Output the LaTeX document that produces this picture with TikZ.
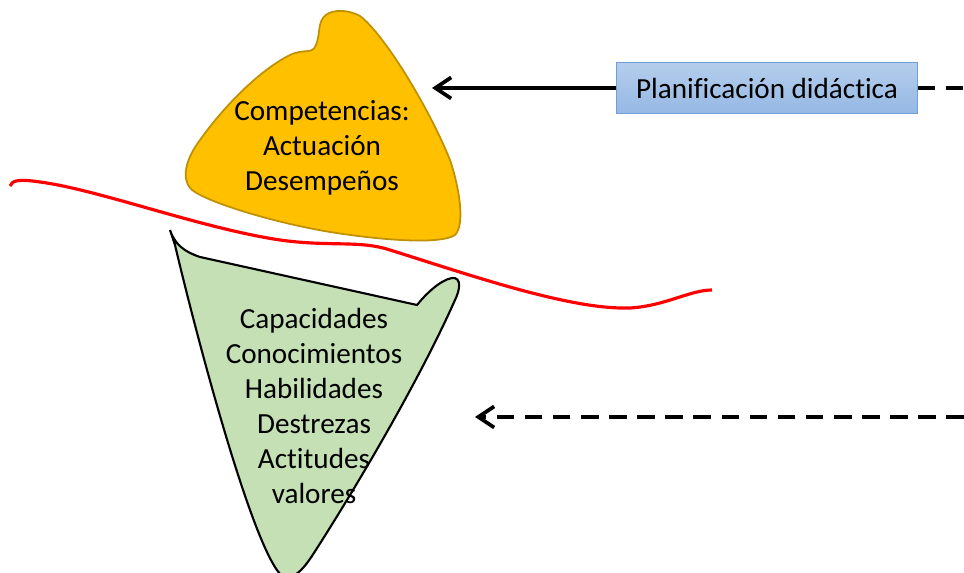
\documentclass[tikz,border=0pt]{standalone}
\usepackage{fontspec}
\setmainfont{Carlito}[Ligatures=NoCommon]
\usepackage{tikz}
\usetikzlibrary{arrows.meta}
\usetikzlibrary{positioning}
\definecolor{oro}{HTML}{FFC000}
\definecolor{orodark}{HTML}{BF9000}
\definecolor{verde}{HTML}{C5E0B4}
\definecolor{celeste}{HTML}{95B8E4}
\definecolor{celestedark}{HTML}{6F9FD8}
\tikzset{planbox/.style={rectangle,draw=celestedark,top color=celeste!70!white,bottom color=celeste,minimum width=171pt,minimum height=29pt,inner sep=0pt,font=\fontsize{16.6}{18}\selectfont}}
\tikzset{words/.style={align=center,inner sep=0pt,font=\fontsize{16.6}{20}\selectfont}}
\tikzset{flecha/.style={line width=2.1pt,-{Straight Barb[length=9pt,width=12pt,line width=2.1pt]}}}

\begin{document}
\begin{tikzpicture}[x=0.02cm,y=-0.02cm]
\useasboundingbox (0,0) rectangle (964,573);
\clip (0,0) rectangle (964,573);

% iceberg, upper part
\draw[fill=oro,draw=orodark,line width=1pt] (323,18) .. controls (328,10) and (345,8) .. (360,16)
  .. controls (385,35) and (430,110) .. (450,160)
  .. controls (460,190) and (465,225) .. (455,235)
  .. controls (440,245) and (380,240) .. (330,232)
  .. controls (270,222) and (200,200) .. (190,188)
  .. controls (182,178) and (185,160) .. (200,140)
  .. controls (225,105) and (260,70) .. (290,55)
  .. controls (305,48) and (312,55) .. (316,45)
  .. controls (320,35) and (318,25) .. (323,18) -- cycle;

% iceberg, hidden part
\draw[fill=verde,line width=1.2pt] (170,230) .. controls (175,245) and (185,252) .. (200,257)
  -- (417,305)
  .. controls (425,295) and (440,280) .. (452,278)
  .. controls (462,277) and (460,290) .. (455,300)
  .. controls (415,390) and (345,505) .. (312,556)
  .. controls (300,574) and (290,582) .. (280,574)
  .. controls (250,540) and (195,330) .. (175,245)
  -- cycle;

% water line
\draw[red,line width=1.8pt] (10,186) .. controls (12,180) and (20,179) .. (40,182)
  .. controls (100,190) and (200,228) .. (280,240)
  .. controls (330,247) and (360,240) .. (390,250)
  .. controls (470,275) and (570,310) .. (630,308)
  .. controls (665,306) and (690,290) .. (712,290);

\node[words] (comp) at (322,148) {Competencias:\\Actuación\\Desempeños};
\node[words] (cap) at (314,406) {Capacidades\\Conocimientos\\Habilidades\\Destrezas\\Actitudes\\valores};

\node[planbox] (plan) at (767,88) {Planificación didáctica};
\coordinate (compin) at (432,88);
\coordinate (planout) at (964,88);
\coordinate (capin) at (475,417);
\coordinate (capout) at (964,417);

\draw[flecha] (plan.west) -- (compin);
\draw[line width=2.1pt,dash pattern=on 10pt off 6pt] (plan.east) -- (planout);
\draw[flecha,dash pattern=on 10pt off 6pt] (capout) -- (capin);
\end{tikzpicture}
\end{document}
